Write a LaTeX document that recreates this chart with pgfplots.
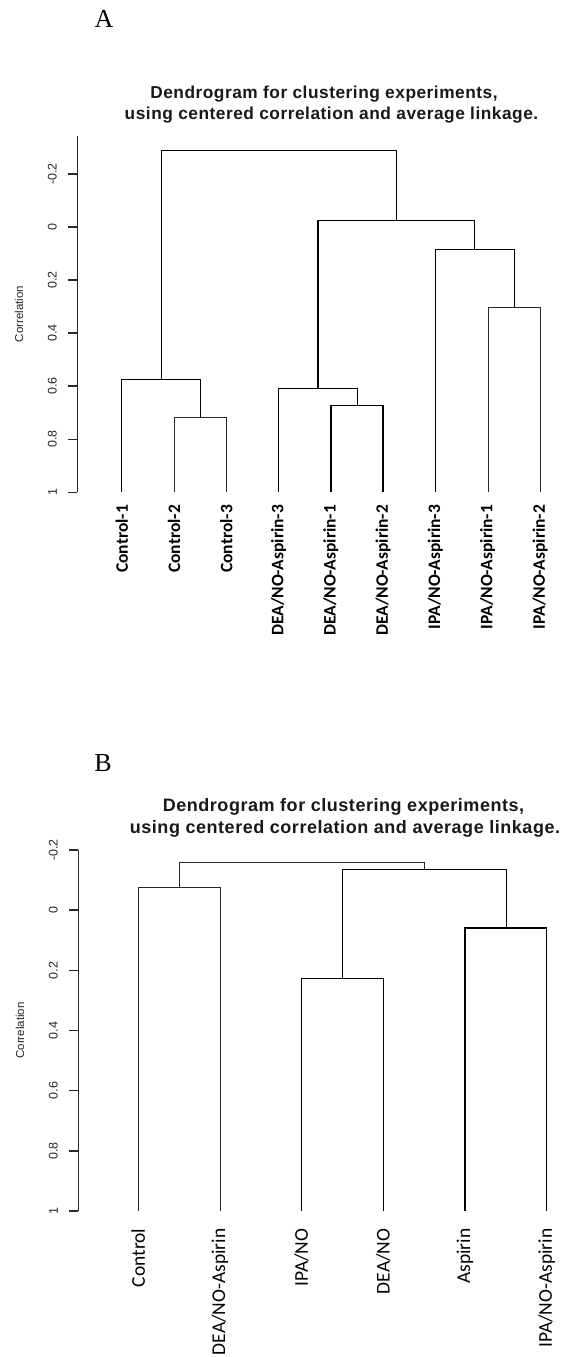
\documentclass[border=0pt]{standalone}
\usepackage{fontspec}
\setmainfont{Liberation Sans}
\newfontfamily\seriffont{Liberation Serif}
\newfontfamily\calibri{Carlito}
\newfontfamily\titlefont[LetterSpace=3]{Liberation Sans Bold}
\usepackage{pgfplots}
\pgfplotsset{compat=1.18}
\definecolor{ln}{RGB}{40,40,40}
\pgfplotsset{
  dendro/.style={
    scale only axis, clip=false, y dir=reverse,
    axis y line*=left, axis x line*=bottom,
    x axis line style={draw=none},
    y axis line style={ln, line width=1.5pt},
    xtick style={draw=none},
    ytick style={ln, line width=1.5pt},
    tick align=outside, major tick length=9pt,
    ytick={-0.2,0,0.2,0.4,0.6,0.8,1},
    yticklabels={-0.2,0,0.2,0.4,0.6,0.8,1},
    yticklabel style={rotate=90, anchor=south, font=\fontsize{12.5}{12.5}\selectfont, text=black!85},
    yticklabel shift=8pt,
    every axis y label/.style={at={(axis description cs:-0.12,0.5)}, rotate=90, anchor=center, font=\fontsize{11.5}{12}\selectfont, text=black!85},
    ylabel={Correlation},
    cycle list={{ln, solid, line width=1.5pt, mark=none}},
  }
}
\begin{document}
\begin{tikzpicture}
\path[use as bounding box, fill=white] (0,0) rectangle (563pt,-1357pt);
% ---------- Panel A ----------
\node[font=\seriffont\fontsize{26}{28}\selectfont] at (104pt,-19pt) {A};
\node[font=\titlefont\fontsize{17.3}{20}\selectfont, anchor=base, text=black!90] at (324pt,-98pt)
  {Dendrogram for clustering experiments,};
\node[font=\titlefont\fontsize{17.3}{20}\selectfont, anchor=base, text=black!90] at (331.5pt,-119pt)
  {using centered correlation and average linkage.};
\begin{axis}[dendro,
  at={(77.3pt,-492.3pt)}, anchor=south west,
  width=485.7pt, height=356.3pt,
  xmin=0.151, xmax=9.44, ymin=-0.343, ymax=1,
  xtick={1,2,3,4,5,6,7,8,9},
  xticklabels={Control-1,Control-2,Control-3,DEA/NO-Aspirin-3,DEA/NO-Aspirin-1,DEA/NO-Aspirin-2,IPA/NO-Aspirin-3,IPA/NO-Aspirin-1,IPA/NO-Aspirin-2},
  xticklabel style={rotate=90, anchor=east, font=\calibri\bfseries\fontsize{17.5}{18}\selectfont},
]
\addplot coordinates {(2,1) (2,0.717) (3,0.717) (3,1)};
\addplot coordinates {(1,1) (1,0.574) (2.5,0.574) (2.5,0.717)};
\addplot coordinates {(5,1) (5,0.673) (6,0.673) (6,1)};
\addplot coordinates {(4,1) (4,0.608) (5.5,0.608) (5.5,0.673)};
\addplot coordinates {(8,1) (8,0.303) (9,0.303) (9,1)};
\addplot coordinates {(7,1) (7,0.082) (8.5,0.082) (8.5,0.303)};
\addplot coordinates {(4.75,0.608) (4.75,-0.025) (7.75,-0.025) (7.75,0.082)};
\addplot coordinates {(1.75,0.574) (1.75,-0.29) (6.25,-0.29) (6.25,-0.025)};
\end{axis}
% ---------- Panel B ----------
\node[font=\seriffont\fontsize{26}{28}\selectfont] at (103pt,-763pt) {B};
\node[font=\titlefont\fontsize{18}{20}\selectfont, anchor=base, text=black!90] at (343.5pt,-811pt)
  {Dendrogram for clustering experiments,};
\node[font=\titlefont\fontsize{18}{20}\selectfont, anchor=base, text=black!90] at (345pt,-833pt)
  {using centered correlation and average linkage.};
\begin{axis}[dendro,
  at={(78.3pt,-1211pt)}, anchor=south west,
  width=484.7pt, height=361pt,
  xmin=0.266, xmax=6.2, ymin=-0.2, ymax=1,
  xtick={1,2,3,4,5,6},
  xticklabels={Control,DEA/NO-Aspirin,IPA/NO,DEA/NO,Aspirin,IPA/NO-Aspirin},
  xticklabel style={rotate=90, anchor=east, font=\calibri\fontsize{19.5}{20}\selectfont},
  xticklabel shift=5pt,
]
\addplot coordinates {(1,1) (1,-0.075) (2,-0.075) (2,1)};
\addplot coordinates {(3,1) (3,0.225) (4,0.225) (4,1)};
\addplot coordinates {(5,1) (5,0.0585) (6,0.0585) (6,1)};
\addplot coordinates {(3.5,0.225) (3.5,-0.137) (5.5,-0.137) (5.5,0.0585)};
\addplot coordinates {(1.5,-0.075) (1.5,-0.161) (4.5,-0.161) (4.5,-0.137)};
\end{axis}
\end{tikzpicture}
\end{document}
